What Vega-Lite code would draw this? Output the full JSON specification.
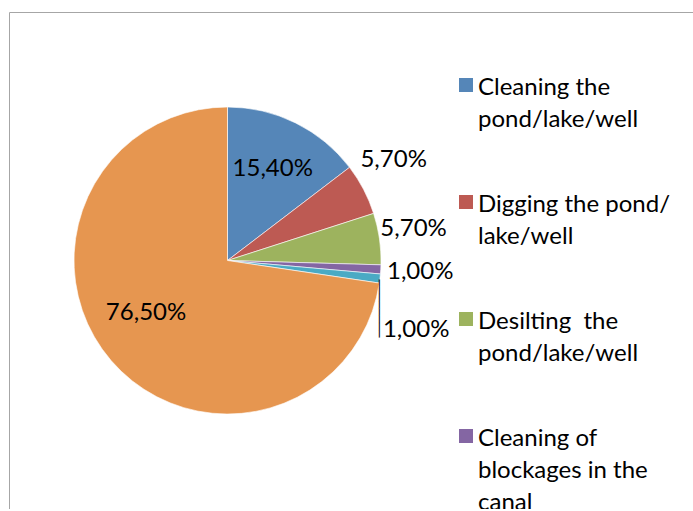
{
  "$schema": "https://vega.github.io/schema/vega-lite/v6.json",
  "width": 684,
  "height": 497,
  "autosize": {"type": "none"},
  "padding": {"left": 9, "top": 12, "right": 0, "bottom": 0},
  "background": "white",
  "view": {"stroke": "#a6a6a6", "strokeWidth": 1, "fill": "white"},
  "config": {
    "view": {"stroke": "#a6a6a6", "strokeWidth": 1},
    "locale": {"number": {"decimal": ",", "thousands": ".", "grouping": [3], "currency": ["", " €"]}},
    "style": {"guide-label": {"lineHeight": 32, "dy": 10}},
    "text": {"font": "Lato", "fontSize": 24, "color": "#000000"}
  },
  "data": {
    "values": [
      {"category": "Cleaning the pond/lake/well", "value": 0.154, "order": 1},
      {"category": "Digging the pond/ lake/well", "value": 0.057, "order": 2},
      {"category": "Desilting  the pond/lake/well", "value": 0.057, "order": 3},
      {"category": "Cleaning of blockages in the canal", "value": 0.01, "order": 4},
      {"category": "Repairing the canal", "value": 0.01, "order": 5},
      {"category": "None", "value": 0.765, "order": 6}
    ]
  },
  "encoding": {
    "theta": {"field": "value", "type": "quantitative", "stack": true},
    "order": {"field": "order", "type": "quantitative"}
  },
  "layer": [
    {
      "mark": {"type": "arc", "x": 218.5, "outerRadius": 153.5, "stroke": "#ffffff", "strokeWidth": 0.6},
      "encoding": {
        "color": {
          "field": "category",
          "type": "nominal",
          "sort": ["Cleaning the pond/lake/well", "Digging the pond/ lake/well", "Desilting  the pond/lake/well", "Cleaning of blockages in the canal", "Repairing the canal", "None"],
          "scale": {
            "domain": ["Cleaning the pond/lake/well", "Digging the pond/ lake/well", "Desilting  the pond/lake/well", "Cleaning of blockages in the canal", "Repairing the canal", "None"],
            "range": ["#5586b8", "#bd5a53", "#9db35e", "#8466a3", "#4aaac4", "#e69650"]
          },
          "legend": {
            "title": null,
            "orient": "none",
            "legendX": 445,
            "legendY": 61,
            "padding": 0,
            "symbolType": "square",
            "symbolSize": 196,
            "symbolStrokeWidth": 0,
            "labelFont": "Lato",
            "labelFontSize": 24,
            "labelColor": "#000000",
            "labelOffset": 0,
            "labelLimit": 400,
            "labelBaseline": "alphabetic",
            "rowPadding": 58,
            "labelExpr": "datum.label == 'Cleaning the pond/lake/well' ? ['Cleaning the', 'pond/lake/well'] : datum.label == 'Digging the pond/ lake/well' ? ['Digging the pond/', 'lake/well'] : datum.label == 'Desilting  the pond/lake/well' ? ['Desilting\u00a0 the', 'pond/lake/well'] : datum.label == 'Cleaning of blockages in the canal' ? ['Cleaning of', 'blockages in the', 'canal'] : datum.label"
          }
        }
      }
    },
    {
      "mark": {"type": "text", "x": 218.5, "radius": 102},
      "encoding": {
        "text": {"condition": {"test": "datum.order == 1", "field": "value", "format": ".2%"}, "value": ""}
      }
    },
    {
      "mark": {"type": "text", "x": 218.5, "radius": 97, "dx": -8, "dy": -11},
      "encoding": {
        "text": {"condition": {"test": "datum.order == 6", "field": "value", "format": ".2%"}, "value": ""}
      }
    },
    {
      "mark": {"type": "text", "x": 218.5, "radius": 192, "dx": -4, "dy": -12},
      "encoding": {
        "text": {"condition": {"test": "datum.order == 2", "field": "value", "format": ".2%"}, "value": ""}
      }
    },
    {
      "mark": {"type": "text", "x": 218.5, "radius": 192, "dx": -4, "dy": -4},
      "encoding": {
        "text": {"condition": {"test": "datum.order == 3", "field": "value", "format": ".2%"}, "value": ""}
      }
    },
    {
      "mark": {"type": "text", "x": 218.5, "radius": 192, "dx": 1, "dy": 0},
      "encoding": {
        "text": {"condition": {"test": "datum.order == 4", "field": "value", "format": ".2%"}, "value": ""}
      }
    },
    {
      "mark": {"type": "text", "x": 218.5, "radius": 192, "dx": -2, "dy": 47},
      "encoding": {
        "text": {"condition": {"test": "datum.order == 5", "field": "value", "format": ".2%"}, "value": ""}
      }
    },
    {
      "mark": {"type": "text", "x": 218.5, "radius": 153, "dx": 30, "angle": 90, "font": "DejaVu Sans Mono", "fontSize": 12},
      "encoding": {
        "text": {"condition": {"test": "datum.order == 5", "value": "────────"}, "value": ""}
      }
    }
  ]
}
